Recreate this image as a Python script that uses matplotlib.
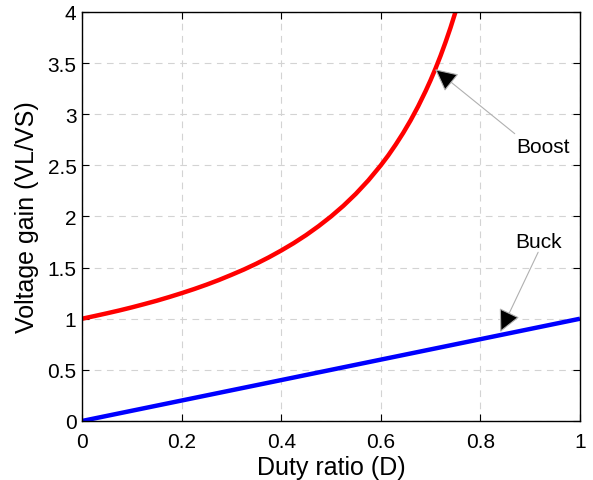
import matplotlib

matplotlib.use("Agg")
import matplotlib.pyplot as plt

plt.rcParams["font.family"] = ["Liberation Sans", "DejaVu Sans"]

# Duty ratio and voltage gain of the two converters
duty_boost = [0.0, 0.025, 0.05, 0.075, 0.10, 0.125, 0.15, 0.175, 0.20, 0.225,
              0.25, 0.275, 0.30, 0.325, 0.35, 0.375, 0.40, 0.425, 0.45, 0.475,
              0.50, 0.525, 0.55, 0.575, 0.60, 0.615, 0.63, 0.645, 0.66, 0.675,
              0.69, 0.70, 0.71, 0.72, 0.73, 0.74, 0.75]
gain_boost = [1.000, 1.026, 1.053, 1.081, 1.111, 1.143, 1.176, 1.212, 1.250, 1.290,
              1.333, 1.379, 1.429, 1.481, 1.538, 1.600, 1.667, 1.739, 1.818, 1.905,
              2.000, 2.105, 2.222, 2.353, 2.500, 2.597, 2.703, 2.817, 2.941, 3.077,
              3.226, 3.333, 3.448, 3.571, 3.704, 3.846, 4.000]
duty_buck = [0.0, 1.0]
gain_buck = [0.0, 1.0]

x_ticks = [0, 0.2, 0.4, 0.6, 0.8, 1]
x_ticklabels = ["0", "0.2", "0.4", "0.6", "0.8", "1"]
y_ticks = [0, 0.5, 1, 1.5, 2, 2.5, 3, 3.5, 4]
y_ticklabels = ["0", "0.5", "1", "1.5", "2", "2.5", "3", "3.5", "4"]

fig = plt.figure(figsize=(5.93, 4.81), dpi=100)
ax = fig.add_axes([0.1383, 0.1227, 0.8397, 0.8503])

ax.plot(duty_boost, gain_boost, color="#ff0000", lw=3.2, solid_capstyle="butt",
        solid_joinstyle="round")
ax.plot(duty_buck, gain_buck, color="#0000ff", lw=3.2, solid_capstyle="butt")

ax.set_xlim(0, 1)
ax.set_ylim(0, 4)
ax.set_xticks(x_ticks)
ax.set_xticklabels(x_ticklabels)
ax.set_yticks(y_ticks)
ax.set_yticklabels(y_ticklabels)
ax.tick_params(direction="in", length=5, width=0.8, top=True, right=True,
               labelsize=15)
ax.tick_params(axis="x", pad=8)
ax.tick_params(axis="y", pad=4)
ax.grid(True, color="#d3d3d3", ls=(0, (6, 5)), lw=0.8)
ax.set_axisbelow(True)
for s in ax.spines.values():
    s.set_linewidth(1.0)

ax.set_xlabel("Duty ratio (D)", fontsize=18, labelpad=3)
ax.set_ylabel("Voltage gain (VL/VS)", fontsize=18, labelpad=6)

arrow = dict(arrowstyle="-|>,head_length=0.7,head_width=0.35",
             fc="black", ec="#b0b0b0", lw=0.8, shrinkA=0, shrinkB=0,
             mutation_scale=20)
ax.annotate("", xy=(0.709, 3.44), xytext=(0.869, 2.81), arrowprops=arrow)
ax.text(0.873, 2.68, "Boost", fontsize=15, ha="left", va="center")
ax.annotate("", xy=(0.84, 0.87), xytext=(0.916, 1.65), arrowprops=arrow)
ax.text(0.871, 1.76, "Buck", fontsize=15, ha="left", va="center")

fig.savefig("out.png", dpi=100)
